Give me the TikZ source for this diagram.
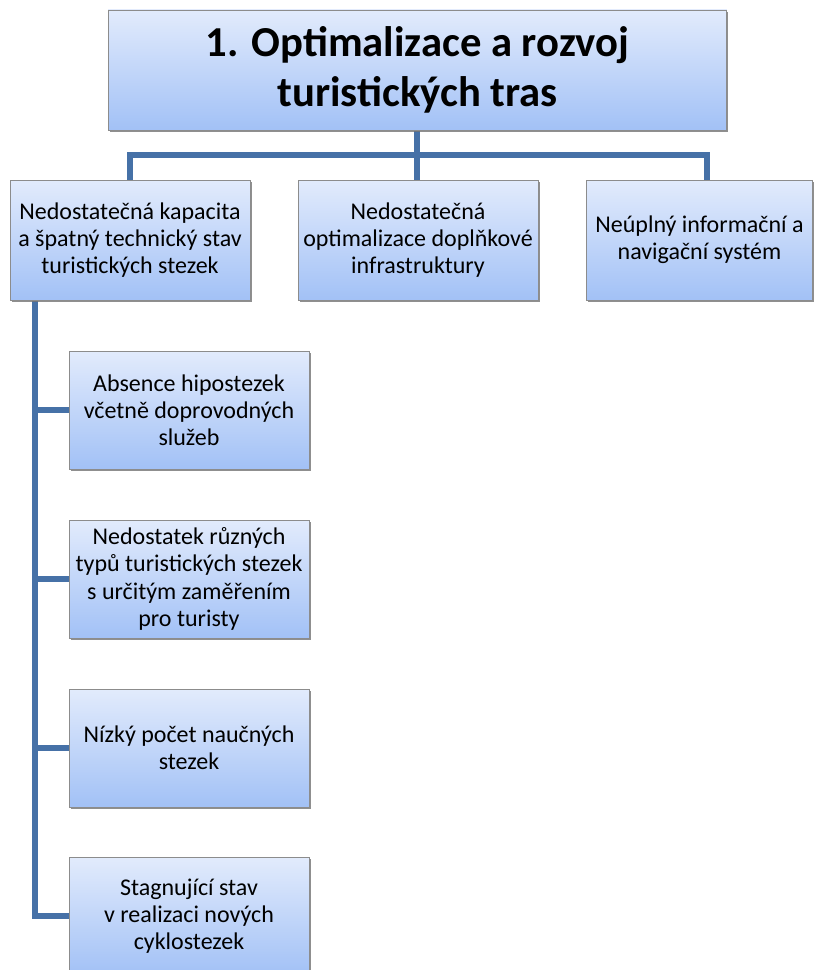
\documentclass[tikz,border=0pt]{standalone}
\usepackage{fontspec}
\setmainfont{Carlito}
\usetikzlibrary{shadows, positioning, calc}
\definecolor{boxtop}{RGB}{226,235,252}
\definecolor{boxbot}{RGB}{162,193,246}
\definecolor{boxline}{RGB}{140,140,140}
\definecolor{linkblue}{RGB}{70,113,167}
\tikzset{
  orgbox/.style={
    rectangle, draw=boxline, line width=0.6pt,
    top color=boxtop, bottom color=boxbot,
    align=center, inner sep=2pt,
    drop shadow={shadow xshift=1.2pt, shadow yshift=-1.5pt, fill=black!55, opacity=0.8}
  },
  topbox/.style={orgbox, minimum width=464pt, minimum height=90pt,
    font=\fontsize{32}{37}\selectfont\bfseries},
  catbox/.style={orgbox, minimum width=#1, minimum height=90pt,
    font=\fontsize{18}{20.4}\selectfont},
  subbox/.style={orgbox, minimum width=180pt, minimum height=88.5pt,
    font=\fontsize{18}{20.4}\selectfont},
  linkline/.style={draw=linkblue, line width=4.4pt}
}
\begin{document}
\begin{tikzpicture}[x=0.75pt, y=-0.75pt]
  \useasboundingbox (0,0) rectangle (815,970);
  \coordinate (hub) at (417,155);
  \coordinate (spine) at (35,300);
  \draw[linkline] (130,240) |- (hub) -| (707,240);
  \draw[linkline] (417,70) -- (417,240);
  \draw[linkline] (spine) |- (189,916);
  \foreach \yy in {410,579,748} \draw[linkline] (spine |- 0,\yy) -- (189,\yy);
  \node[topbox](t0)at(417.5,70){1. Optimalizace a rozvoj\\turistických tras};
  \node[catbox=180pt](c1)at(130,240){Nedostatečná kapacita\\a špatný technický stav\\turistických stezek};
  \node[catbox=180pt](c2)at(418,240){Nedostatečná\\optimalizace doplňkové\\infrastruktury};
  \node[catbox=170pt](c3)at(699.5,240){Neúplný informační a\\navigační systém};
  \node[subbox](s1)at(189,410){Absence hipostezek\\včetně doprovodných\\služeb};
  \node[subbox](s2)at(189,579){Nedostatek různých\\typů turistických stezek\\s určitým zaměřením\\pro turisty};
  \node[subbox](s3)at(189,748){Nízký počet naučných\\stezek};
  \node[subbox](s4)at(189,916){Stagnující stav\\v realizaci nových\\cyklostezek};
\end{tikzpicture}
\end{document}
